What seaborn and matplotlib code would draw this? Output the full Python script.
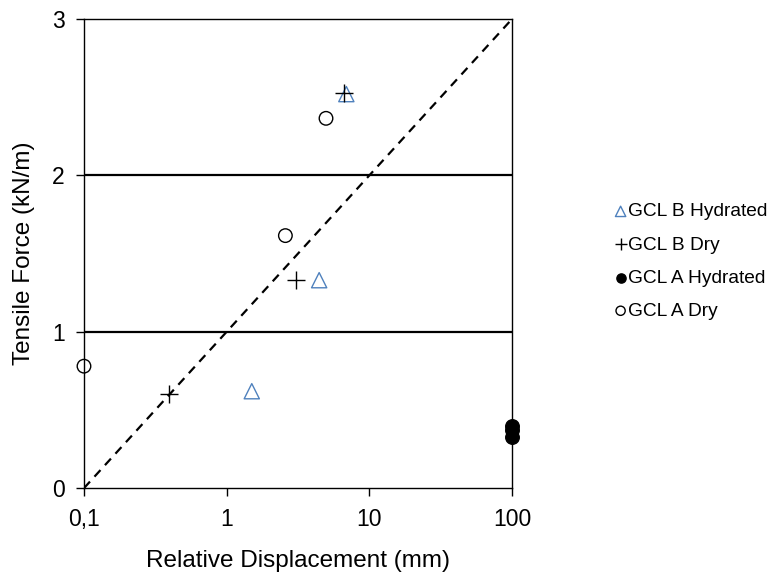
import numpy as np
import pandas as pd
import matplotlib
matplotlib.use("Agg")
import matplotlib.pyplot as plt
import seaborn as sns

sns.set_style("ticks")
plt.rcParams['font.family'] = ['Liberation Sans', 'DejaVu Sans']
plt.rcParams['text.color'] = 'black'
plt.rcParams['axes.labelcolor'] = 'black'

# data
b_hyd_x = [1.5, 4.45, 6.9]
b_hyd_y = [0.62, 1.33, 2.52]
b_dry_x = [0.395, 3.05, 6.65]
b_dry_y = [0.60, 1.33, 2.53]
a_hyd_x = [100, 100, 100]
a_hyd_y = [0.40, 0.37, 0.33]
a_dry_x = [0.1, 2.58, 4.97]
a_dry_y = [0.78, 1.615, 2.365]

ref_x = [0.1, 100]
ref_y = [0, 3]
hlines_y = [1, 2]

x_ticks = [0.1, 1, 10, 100]
x_ticklabels = ['0,1', '1', '10', '100']
y_ticks = [0, 1, 2, 3]

fig = plt.figure(figsize=(7.74, 5.77), dpi=100)
ax = fig.add_axes([0.1085, 0.154, 0.553, 0.813])

for y in hlines_y:
    ax.axhline(y, color='black', lw=1.6, zorder=1)
ax.plot(ref_x, ref_y, color='black', lw=1.6, ls=(0, (4, 3)), zorder=1)

groups = [
    ('GCL B Hydrated', b_hyd_x, b_hyd_y, '^', 'none', '#4F81BD', 120),
    ('GCL B Dry', b_dry_x, b_dry_y, '+', 'black', 'black', 170),
    ('GCL A Hydrated', a_hyd_x, a_hyd_y, 'o', 'black', 'black', 95),
    ('GCL A Dry', a_dry_x, a_dry_y, 'o', 'none', 'black', 95),
]
for name, xs, ys, mk, fc, ec, s in groups:
    df = pd.DataFrame({'x': xs, 'y': ys})
    sns.scatterplot(data=df, x='x', y='y', ax=ax, marker=mk, s=s,
                    facecolor=fc, edgecolor=ec, color=ec, linewidth=1.0,
                    label=name, clip_on=False, zorder=3)

ax.set_xscale('log')
ax.set_xlim(0.1, 100)
ax.set_ylim(0, 3)
ax.set_xticks(x_ticks)
ax.set_xticklabels(x_ticklabels)
ax.xaxis.set_minor_locator(matplotlib.ticker.NullLocator())
ax.set_yticks(y_ticks)
ax.tick_params(axis='both', direction='out', length=6, width=1,
               labelsize=16.5, pad=8, colors='black')
for sp in ax.spines.values():
    sp.set_visible(True)
    sp.set_linewidth(1.0)
    sp.set_color('black')

ax.set_xlabel('Relative Displacement (mm)', fontsize=17.5, labelpad=14)
ax.set_ylabel('Tensile Force (kN/m)', fontsize=17.5, labelpad=12)

leg = ax.legend(loc='center left', bbox_to_anchor=(0.782, 0.547),
                bbox_transform=fig.transFigure, frameon=False,
                fontsize=13.8, markerscale=0.68, handletextpad=0.0,
                labelspacing=0.82, handlelength=0.8, borderaxespad=0)
for t in leg.get_texts():
    t.set_color('black')

fig.savefig('out.png', dpi=100)
